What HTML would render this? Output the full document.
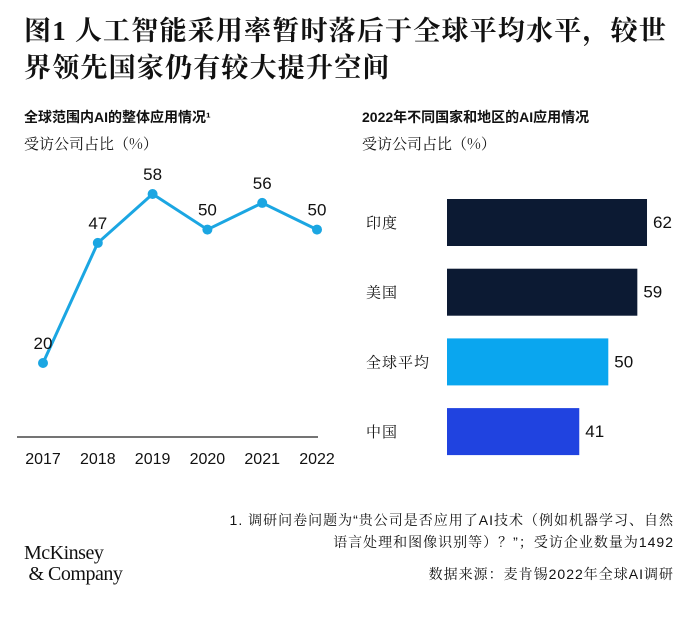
<!DOCTYPE html>
<html><head><meta charset="utf-8"><style>
body{margin:0;width:700px;height:626px;background:#fff;font-family:"Liberation Sans","Noto Sans CJK SC",sans-serif;color:#111;position:relative;overflow:hidden}
.a{position:absolute;white-space:nowrap}
.sf{font-family:"Noto Serif CJK SC",serif}
</style></head><body>
<div class="a" style="left:24px;top:13px;font-family:'Liberation Serif','Noto Serif CJK SC',serif;font-weight:bold;font-size:27px;line-height:37px;letter-spacing:1.2px">图1 人工智能采用率暂时落后于全球平均水平，较世<br>界领先国家仍有较大提升空间</div>
<div class="a" style="left:24px;top:107px;font-size:14px;font-weight:bold">全球范围内AI的整体应用情况¹</div>
<div class="a sf" style="left:24px;top:133px;font-size:15px">受访公司占比（%）</div>
<div class="a" style="left:362px;top:107px;font-size:14px;font-weight:bold">2022年不同国家和地区的AI应用情况</div>
<div class="a sf" style="left:362px;top:133px;font-size:15px">受访公司占比（%）</div>
<svg class="a" style="left:0;top:0" width="700" height="626" id="svg"></svg>
<div class="a" style="right:26px;top:509px;font-size:14px;line-height:22px;text-align:right;font-family:'Liberation Sans','Noto Serif CJK SC',serif;letter-spacing:1px">1. 调研问卷问题为“贵公司是否应用了AI技术（例如机器学习、自然<br>语言处理和图像识别等）？”；受访企业数量为1492</div>
<div class="a" style="right:26px;top:564px;font-size:14px;font-family:'Liberation Sans','Noto Serif CJK SC',serif;letter-spacing:1px">数据来源：麦肯锡2022年全球AI调研</div>
<div class="a" style="left:24px;top:543px;font-family:'Liberation Serif',serif;font-size:20px;line-height:21px;letter-spacing:-0.5px">McKinsey<br>&nbsp;&amp; Company</div>
<script>
const years=["2017","2018","2019","2020","2021","2022"];
const adoption=[20,47,58,50,56,50];
const countries=["印度","美国","全球平均","中国"];
const countryValues=[62,59,50,41];
const countryColors=["#0c1a33","#0c1a33","#0aa6ef","#2043e0"];
const NS="http://www.w3.org/2000/svg";
const svg=document.getElementById('svg');
function mk(t,a,txt){const e=document.createElementNS(NS,t);for(const k in a)e.setAttribute(k,a[k]);if(txt!=null)e.textContent=txt;svg.appendChild(e);return e;}
const xL=i=>43+i*54.8;
const yL=v=>363-(v-20)*4.447;
let ax=mk('line',{x1:17,x2:318,y1:437,y2:437,stroke:'#222','stroke-width':1.2});

years.forEach((y,i)=>{const t=mk('text',{x:xL(i),y:464,'text-anchor':'middle','font-size':16,fill:'#111'},y);
});
const pl=mk('polyline',{points:adoption.map((v,i)=>xL(i)+','+yL(v)).join(' '),fill:'none',stroke:'#1ba6e2','stroke-width':3});

adoption.forEach((v,i)=>{const c=mk('circle',{cx:xL(i),cy:yL(v),r:5,fill:'#1ba6e2'});

const t=mk('text',{x:xL(i),y:yL(v)-14,'text-anchor':'middle','font-size':17,fill:'#111'},v);
});
const x0=447,sc=3.226;
const yB=i=>199+i*69.7;
countries.forEach((c,i)=>{const w=countryValues[i]*sc;
const r=mk('rect',{x:x0,y:yB(i),width:w,height:47,fill:countryColors[i]});

const l=mk('text',{x:366,y:yB(i)+29,'font-size':15,fill:'#111','font-family':"'Noto Serif CJK SC',serif",'letter-spacing':1},c);

const v=mk('text',{x:x0+w+6,y:yB(i)+29,'font-size':17,fill:'#111'},countryValues[i]);
});
</script>
</body></html>
